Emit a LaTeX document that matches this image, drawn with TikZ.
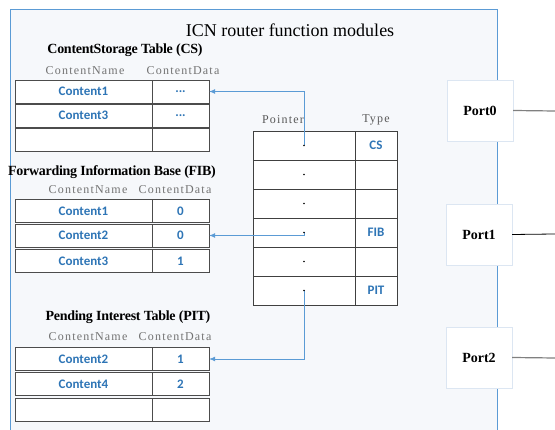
\documentclass[tikz,border=0pt]{standalone}
\usepackage{fontspec}
\setmainfont{Liberation Serif}
\newfontfamily\carlito{Carlito}
\definecolor{FrameBlue}{HTML}{5B9BD5}
\definecolor{CellBlue}{HTML}{2E75B6}
\definecolor{PanelFill}{HTML}{F6F8FB}
\definecolor{PortEdge}{HTML}{DCE6F2}
\usetikzlibrary{arrows.meta}
\tikzset{
  % table cells
  namecell/.style={rectangle, draw=black!70, fill=white, minimum width=137pt, minimum height=23pt, inner sep=0pt, font=\carlito\bfseries\fontsize{13}{15}\selectfont, text=CellBlue},
  datacell/.style={rectangle, draw=black!70, fill=white, minimum width=57pt, minimum height=23pt, inner sep=0pt, font=\carlito\bfseries\fontsize{13}{15}\selectfont, text=CellBlue},
  ptrcell/.style={rectangle, draw=black!75, fill=white, minimum width=102pt, minimum height=29pt, inner sep=0pt},
  typecell/.style={rectangle, draw=black!75, fill=white, minimum width=42pt, minimum height=29pt, inner sep=0pt, font=\carlito\bfseries\fontsize{13}{15}\selectfont, text=CellBlue},
  % labels
  tabletitle/.style={font=\bfseries\fontsize{14}{16}\selectfont\addfontfeatures{LetterSpace=-2}, inner sep=0pt},
  colhead/.style={font=\fontsize{12}{14}\selectfont\addfontfeatures{LetterSpace=10}, text=black!55, inner sep=0pt},
  ptrhead/.style={font=\fontsize{12}{14}\selectfont\addfontfeatures{LetterSpace=10}, text=black!65, inner sep=0pt},
  portbox/.style={rectangle, draw=PortEdge, fill=white, minimum width=66pt, minimum height=61pt, font=\bfseries\fontsize{14}{16}\selectfont},
  % lines
  ptrarrow/.style={-{Latex[length=6pt,width=5pt]}, FrameBlue, line width=0.8pt},
  portline/.style={line width=1.2pt}
}
\begin{document}
\begin{tikzpicture}[x=1pt, y=-1pt]
  \useasboundingbox (0,0) rectangle (555,430);
  % router frame
  \draw[FrameBlue, fill=PanelFill, line width=0.7pt] (10,431) -- (10,9) -- (497,9) -- (497,431);
  \node[font=\fontsize{18}{20}\selectfont] (title) at (290,30) {ICN router function modules};

  % CS table
  \node[tabletitle] (cstitle) at (125,50) {ContentStorage Table (CS)};
  \node[colhead] (csname) at (85,71) {ContentName};
  \node[colhead] (csdata) at (183,71) {ContentData};
  \node[namecell] (cs1n) at (83.5,91.5) {Content1};
  \node[datacell] (cs1d) at (180.5,91.5) {...};
  \node[namecell] (cs2n) at (83.5,115.5) {Content3};
  \node[datacell] (cs2d) at (180.5,115.5) {...};
  \node[namecell] (cs3n) at (83.5,139.5) {};
  \node[datacell] (cs3d) at (180.5,139.5) {};

  % FIB table
  \node[tabletitle] (fibtitle) at (112,172) {Forwarding Information Base (FIB)};
  \node[colhead] (fibname) at (88,190) {ContentName};
  \node[colhead] (fibdata) at (175,190) {ContentData};
  \node[namecell] (fib1n) at (83.5,211) {Content1};
  \node[datacell] (fib1d) at (180.5,211) {0};
  \node[namecell] (fib2n) at (83.5,235.5) {Content2};
  \node[datacell] (fib2d) at (180.5,235.5) {0};
  \node[namecell] (fib3n) at (83.5,261) {Content3};
  \node[datacell] (fib3d) at (180.5,261) {1};

  % PIT table
  \node[tabletitle] (pittitle) at (128,317) {Pending Interest Table (PIT)};
  \node[colhead] (pitname) at (88,337) {ContentName};
  \node[colhead] (pitdata) at (175,337) {ContentData};
  \node[namecell] (pit1n) at (83.5,359) {Content2};
  \node[datacell] (pit1d) at (180.5,359) {1};
  \node[namecell] (pit2n) at (83.5,384) {Content4};
  \node[datacell] (pit2d) at (180.5,384) {2};
  \node[namecell] (pit3n) at (83.5,409.5) {};
  \node[datacell] (pit3d) at (180.5,409.5) {};

  % pointer table
  \node[ptrhead] (ptrname) at (283,120) {Pointer};
  \node[ptrhead] (typename) at (376,120) {Type};
  \foreach \i/\t in {1/CS,2/,3/,4/FIB,5/,6/PIT} {
    \node[ptrcell] (ptr\i) at (304,116.5+29*\i) {};
    \node[typecell] (type\i) at (376,116.5+29*\i) {\t};
  }

  % pointers into the tables
  \draw[ptrarrow] (ptr1.center) |- (cs1d.east);
  \draw[ptrarrow] (ptr4.center) |- (fib2d.east);
  \draw[ptrarrow] (ptr6.center) |- (pit1d.east);
  \foreach \i in {1,...,6}
    \fill (ptr\i.center) circle (0.9pt);

  % ports
  \node[portbox] (port0) at (480,110.5) {Port0};
  \node[portbox] (port1) at (479,234.5) {Port1};
  \node[portbox] (port2) at (479,357.5) {Port2};
  \coordinate (out0) at (555,111);
  \coordinate (out1) at (555,234);
  \coordinate (out2) at (555,358);
  \draw[portline, black!50] (port0.east) -- (out0);
  \draw[portline, black, line width=0.8pt] (port1.east) -- (out1);
  \draw[portline, black!50] (port2.east) -- (out2);
\end{tikzpicture}
\end{document}
